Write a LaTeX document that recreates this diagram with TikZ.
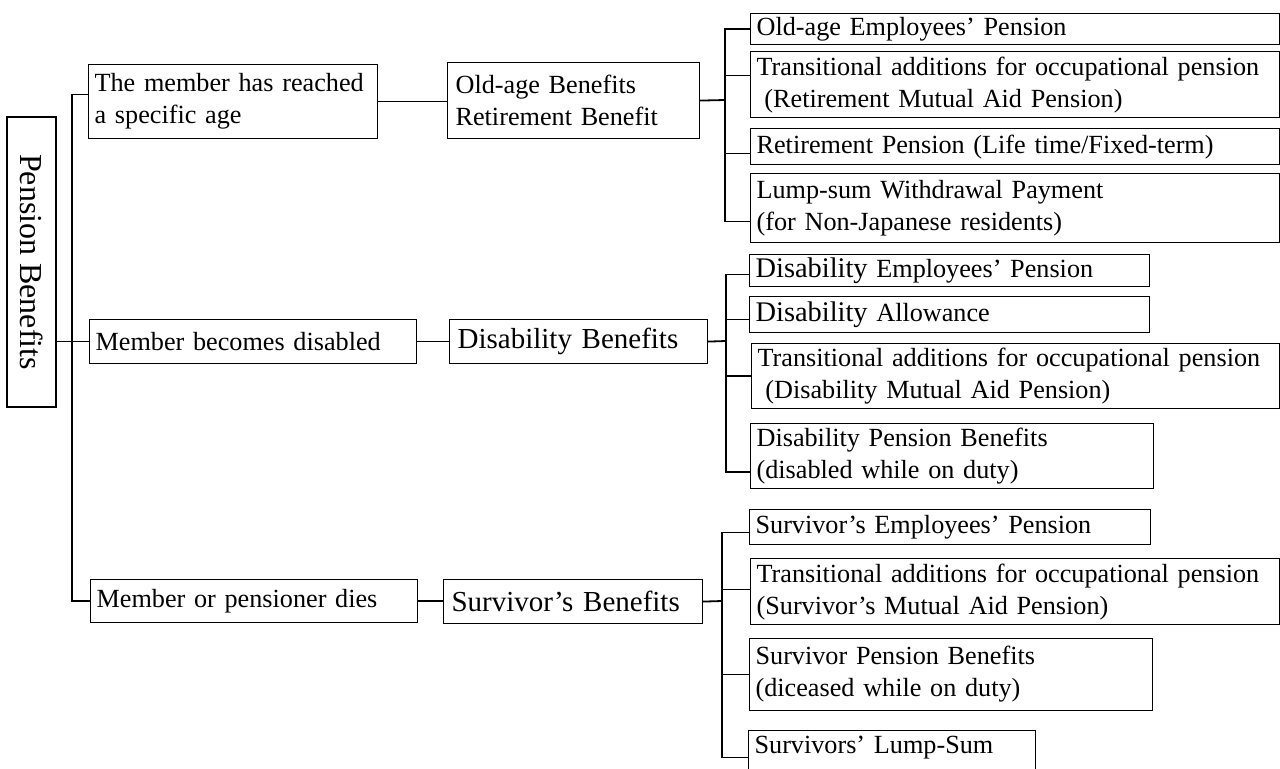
\documentclass[tikz,border=0pt]{standalone}
\usepackage{fontspec}
\setmainfont{Liberation Serif}
\begin{document}
\begin{tikzpicture}[x=0.5pt, y=-0.5pt,
  box/.style={draw, line width=0.6pt, anchor=north west, align=left, inner xsep=3pt, inner ysep=0pt, font=\fontsize{13.1}{16}\selectfont},
  big/.style={font=\fontsize{14.5}{17}\selectfont},
  link/.style={line width=0.9pt},
  bus/.style={line width=0.6pt}]
  \useasboundingbox (0,0) rectangle (1280,769);
  \clip (0,0) rectangle (1280,769);

  \node[draw, line width=0.6pt, rotate=-90, minimum width=145pt, minimum height=24.5pt, inner sep=0pt, font=\fontsize{16}{19}\selectfont] (root) at (31.5,262) {Pension Benefits};

  \node[box, text width=138.5pt, minimum height=37pt] (age) at (88,64) {\mbox{The member has reached}\\a specific age};
  \node[box, text width=157.5pt, minimum height=22pt] (disabled) at (89,319) {Member becomes disabled};
  \node[box, text width=157.5pt, minimum height=21.5pt] (dies) at (90,579) {Member or pensioner dies};

  \node[box, text width=118pt, minimum height=38pt, inner xsep=4pt] (oldage) at (447,62) {Old-age Benefits\\Retirement Benefit};
  \node[box, big, text width=121pt, minimum height=22pt, inner xsep=4pt] (disab) at (449,319) {Disability Benefits};
  \node[box, big, text width=121.5pt, minimum height=22pt, inner xsep=4pt] (surv) at (443,579) {Survivor's Benefits};

  \node[box, text width=258.5pt, minimum height=15.5pt] (oa1) at (750,13) {Old-age Employees' Pension};
  \node[box, text width=258.5pt, minimum height=33pt] (oa2) at (750,51) {\mbox{Transitional additions for occupational pension}\\\hspace*{0.3em}(Retirement Mutual Aid Pension)};
  \node[box, text width=258.5pt, minimum height=18pt] (oa3) at (750,128) {\mbox{Retirement Pension (Life time/Fixed-term)}};
  \node[box, text width=258.5pt, minimum height=34.5pt] (oa4) at (750,173) {Lump-sum Withdrawal Payment\\(for Non-Japanese residents)};

  \node[box, text width=194pt, minimum height=16pt] (db1) at (749,254) {{\fontsize{14.2}{16}\selectfont Disability} Employees' Pension};
  \node[box, text width=194pt, minimum height=18pt] (db2) at (749,296) {{\fontsize{14.2}{16}\selectfont Disability} Allowance};
  \node[box, text width=258pt, minimum height=32.5pt] (db3) at (751,343) {\mbox{Transitional additions for occupational pension}\\\hspace*{0.3em}(Disability Mutual Aid Pension)};
  \node[box, text width=195.5pt, minimum height=32.5pt] (db4) at (750,423) {Disability Pension Benefits\\(disabled while on duty)};

  \node[box, text width=194.5pt, minimum height=17.5pt] (sv1) at (749,509) {Survivor's Employees' Pension};
  \node[box, text width=258.5pt, minimum height=33pt] (sv2) at (750,558) {\mbox{Transitional additions for occupational pension}\\(Survivor's Mutual Aid Pension)};
  \node[box, text width=195.5pt, minimum height=36pt] (sv3) at (749,638) {Survivor Pension Benefits\\(diceased while on duty)};
  \node[box, text width=137.5pt, text height=9.5pt, text depth=20pt, inner ysep=2pt] (sv4) at (748,730) {Survivors' Lump-Sum};

  \coordinate (trunk) at (72,342);
  \coordinate (busoa) at (725,100);
  \coordinate (busdb) at (726,341);
  \coordinate (bussv) at (722,601);

  \draw[bus] (root.north |- disabled.west) -- (disabled.west);
  \foreach \n/\s in {age/3.5pt, disabled/0pt, dies/0pt}
    \draw[bus] ([yshift=\s]\n.west) -| (trunk);

  \draw[link] (age.east) -- (age.east -| oldage.west);
  \draw[link] (disabled.east) -- (disab.west);
  \draw[link] (dies.east) -- (dies.east -| surv.west);

  \draw[link] (oldage.east) -- (busoa);
  \draw[link] (disab.east) -- (busdb);
  \draw[link] (surv.east) -- (bussv);

  \foreach \n/\s in {oa1/0pt, oa2/4.5pt, oa3/-3.5pt, oa4/-6.75pt}
    \draw[link] ([yshift=\s]\n.west) -| (busoa);
  \foreach \n/\s in {db1/-2pt, db2/-2.5pt, db3/0pt, db4/-8pt}
    \draw[bus] ([yshift=\s]\n.west) -| (busdb);
  \foreach \n/\s in {sv1/-2.75pt, sv2/1pt, sv3/0pt, sv4/3.25pt}
    \draw[bus] ([yshift=\s]\n.west) -| (bussv);
\end{tikzpicture}
\end{document}
